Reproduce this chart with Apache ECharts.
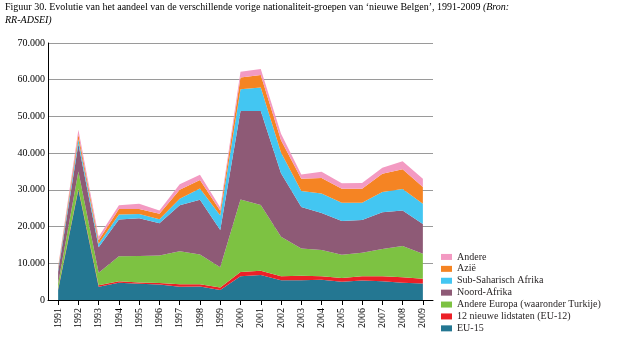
<!DOCTYPE html>
<html>
<head>
<meta charset="utf-8">
<script src="https://cdn.jsdelivr.net/npm/echarts@6/dist/echarts.min.js"></script>
<style>html,body{margin:0;padding:0;background:#fff}#c{width:620px;height:341px}</style>
</head>
<body>
<div id="c"></div>
<script>
const years = ['1991','1992','1993','1994','1995','1996','1997','1998','1999','2000','2001','2002','2003','2004','2005','2006','2007','2008','2009'];
const eu15 =        [2700,30000,3600,4700,4400,4200,3600,3700,2700,6500,6800,5400,5400,5500,5000,5300,5100,4700,4500];
const eu12 =        [300,400,400,400,400,400,700,600,700,1100,1200,1100,1200,1000,1000,1200,1400,1500,1300];
const andereEuropa =[1500,4600,3400,6800,7200,7500,9000,8100,5500,19800,17900,10700,7400,7100,6300,6400,7400,8500,6800];
const noordAfrika = [3200,7500,7000,10000,10300,8800,12500,14900,10200,24100,25600,17300,11300,10100,9200,8900,10000,9700,8100];
const subSahara =   [600,1300,900,1400,1100,1100,1800,3100,3900,5900,6400,5700,4400,5300,5000,4700,5500,5800,5500];
const azie =        [500,1300,1000,1500,1400,1500,2400,2300,1300,3200,3400,3300,3300,4200,3800,3800,5000,5400,4600];
const andere =      [300,1300,900,1000,1400,900,1500,1400,900,1600,1600,1800,1200,1700,1500,1600,1600,2200,2200];
const yTicks = [0,10000,20000,30000,40000,50000,60000,70000];

const names = ['EU-15','12 nieuwe lidstaten (EU-12)','Andere Europa (waaronder Turkije)','Noord-Afrika','Sub-Saharisch Afrika','Azië','Andere'];
const colors = ['#247792','#ec2027','#7dc242','#8e5a76','#43c6f2','#f58423','#f39ac2'];
const datas = [eu15,eu12,andereEuropa,noordAfrika,subSahara,azie,andere];
const serif = '"Liberation Serif","Times New Roman",serif';

const chart = echarts.init(document.getElementById('c'), null, {renderer:'canvas'});
chart.setOption({
  animation:false,
  backgroundColor:'#fff',
  title:{
    left:5, top:1, padding:0,
    text:'{a|Figuur 30. Evolutie van het aandeel van de verschillende vorige nationaliteit-groepen van ‘nieuwe Belgen’, 1991-2009 }{b|(Bron:}\n{b|RR-ADSEI)}',
    textStyle:{
      fontWeight:'normal',
      rich:{
        a:{fontFamily:serif,fontSize:10,color:'#000',lineHeight:13,fontWeight:'normal'},
        b:{fontFamily:serif,fontSize:10,color:'#000',fontStyle:'italic',lineHeight:13,fontWeight:'normal'}
      }
    }
  },
  legend:{
    orient:'vertical', left:441, top:251, padding:0, height:95,
    data:names.slice().reverse(),
    itemWidth:11, itemHeight:6, itemGap:0,
    icon:'rect',
    textStyle:{fontFamily:serif,fontSize:10,color:'#231f20',lineHeight:11.9},
    selectedMode:false
  },
  grid:{left:48,right:187,top:43,bottom:41,containLabel:false},
  xAxis:{
    type:'category', data:years, boundaryGap:true,
    axisLine:{show:true,lineStyle:{color:'#000',width:1}},
    axisTick:{show:true,alignWithLabel:true,length:5,lineStyle:{color:'#000'}},
    axisLabel:{rotate:90,margin:8,fontFamily:serif,fontSize:10,color:'#000'},
    splitLine:{show:false}
  },
  yAxis:{
    type:'value', min:yTicks[0], max:yTicks[yTicks.length-1], interval:10000,
    axisLine:{show:true,lineStyle:{color:'#000',width:1}},
    axisTick:{show:false},
    axisLabel:{margin:3,fontFamily:serif,fontSize:10,color:'#000',
      formatter:function(v){return v===0?'0':String(v).replace(/\B(?=(\d{3})+(?!\d))/g,'.');}},
    splitLine:{show:true,lineStyle:{color:'#9a9a9a',width:1}}
  },
  series:datas.map(function(d,i){return {
    name:names[i], type:'line', stack:'all', data:d,
    symbol:'none', showSymbol:false,
    lineStyle:{width:0}, areaStyle:{color:colors[i],opacity:1},
    itemStyle:{color:colors[i]}
  };})
});
</script>
</body>
</html>
